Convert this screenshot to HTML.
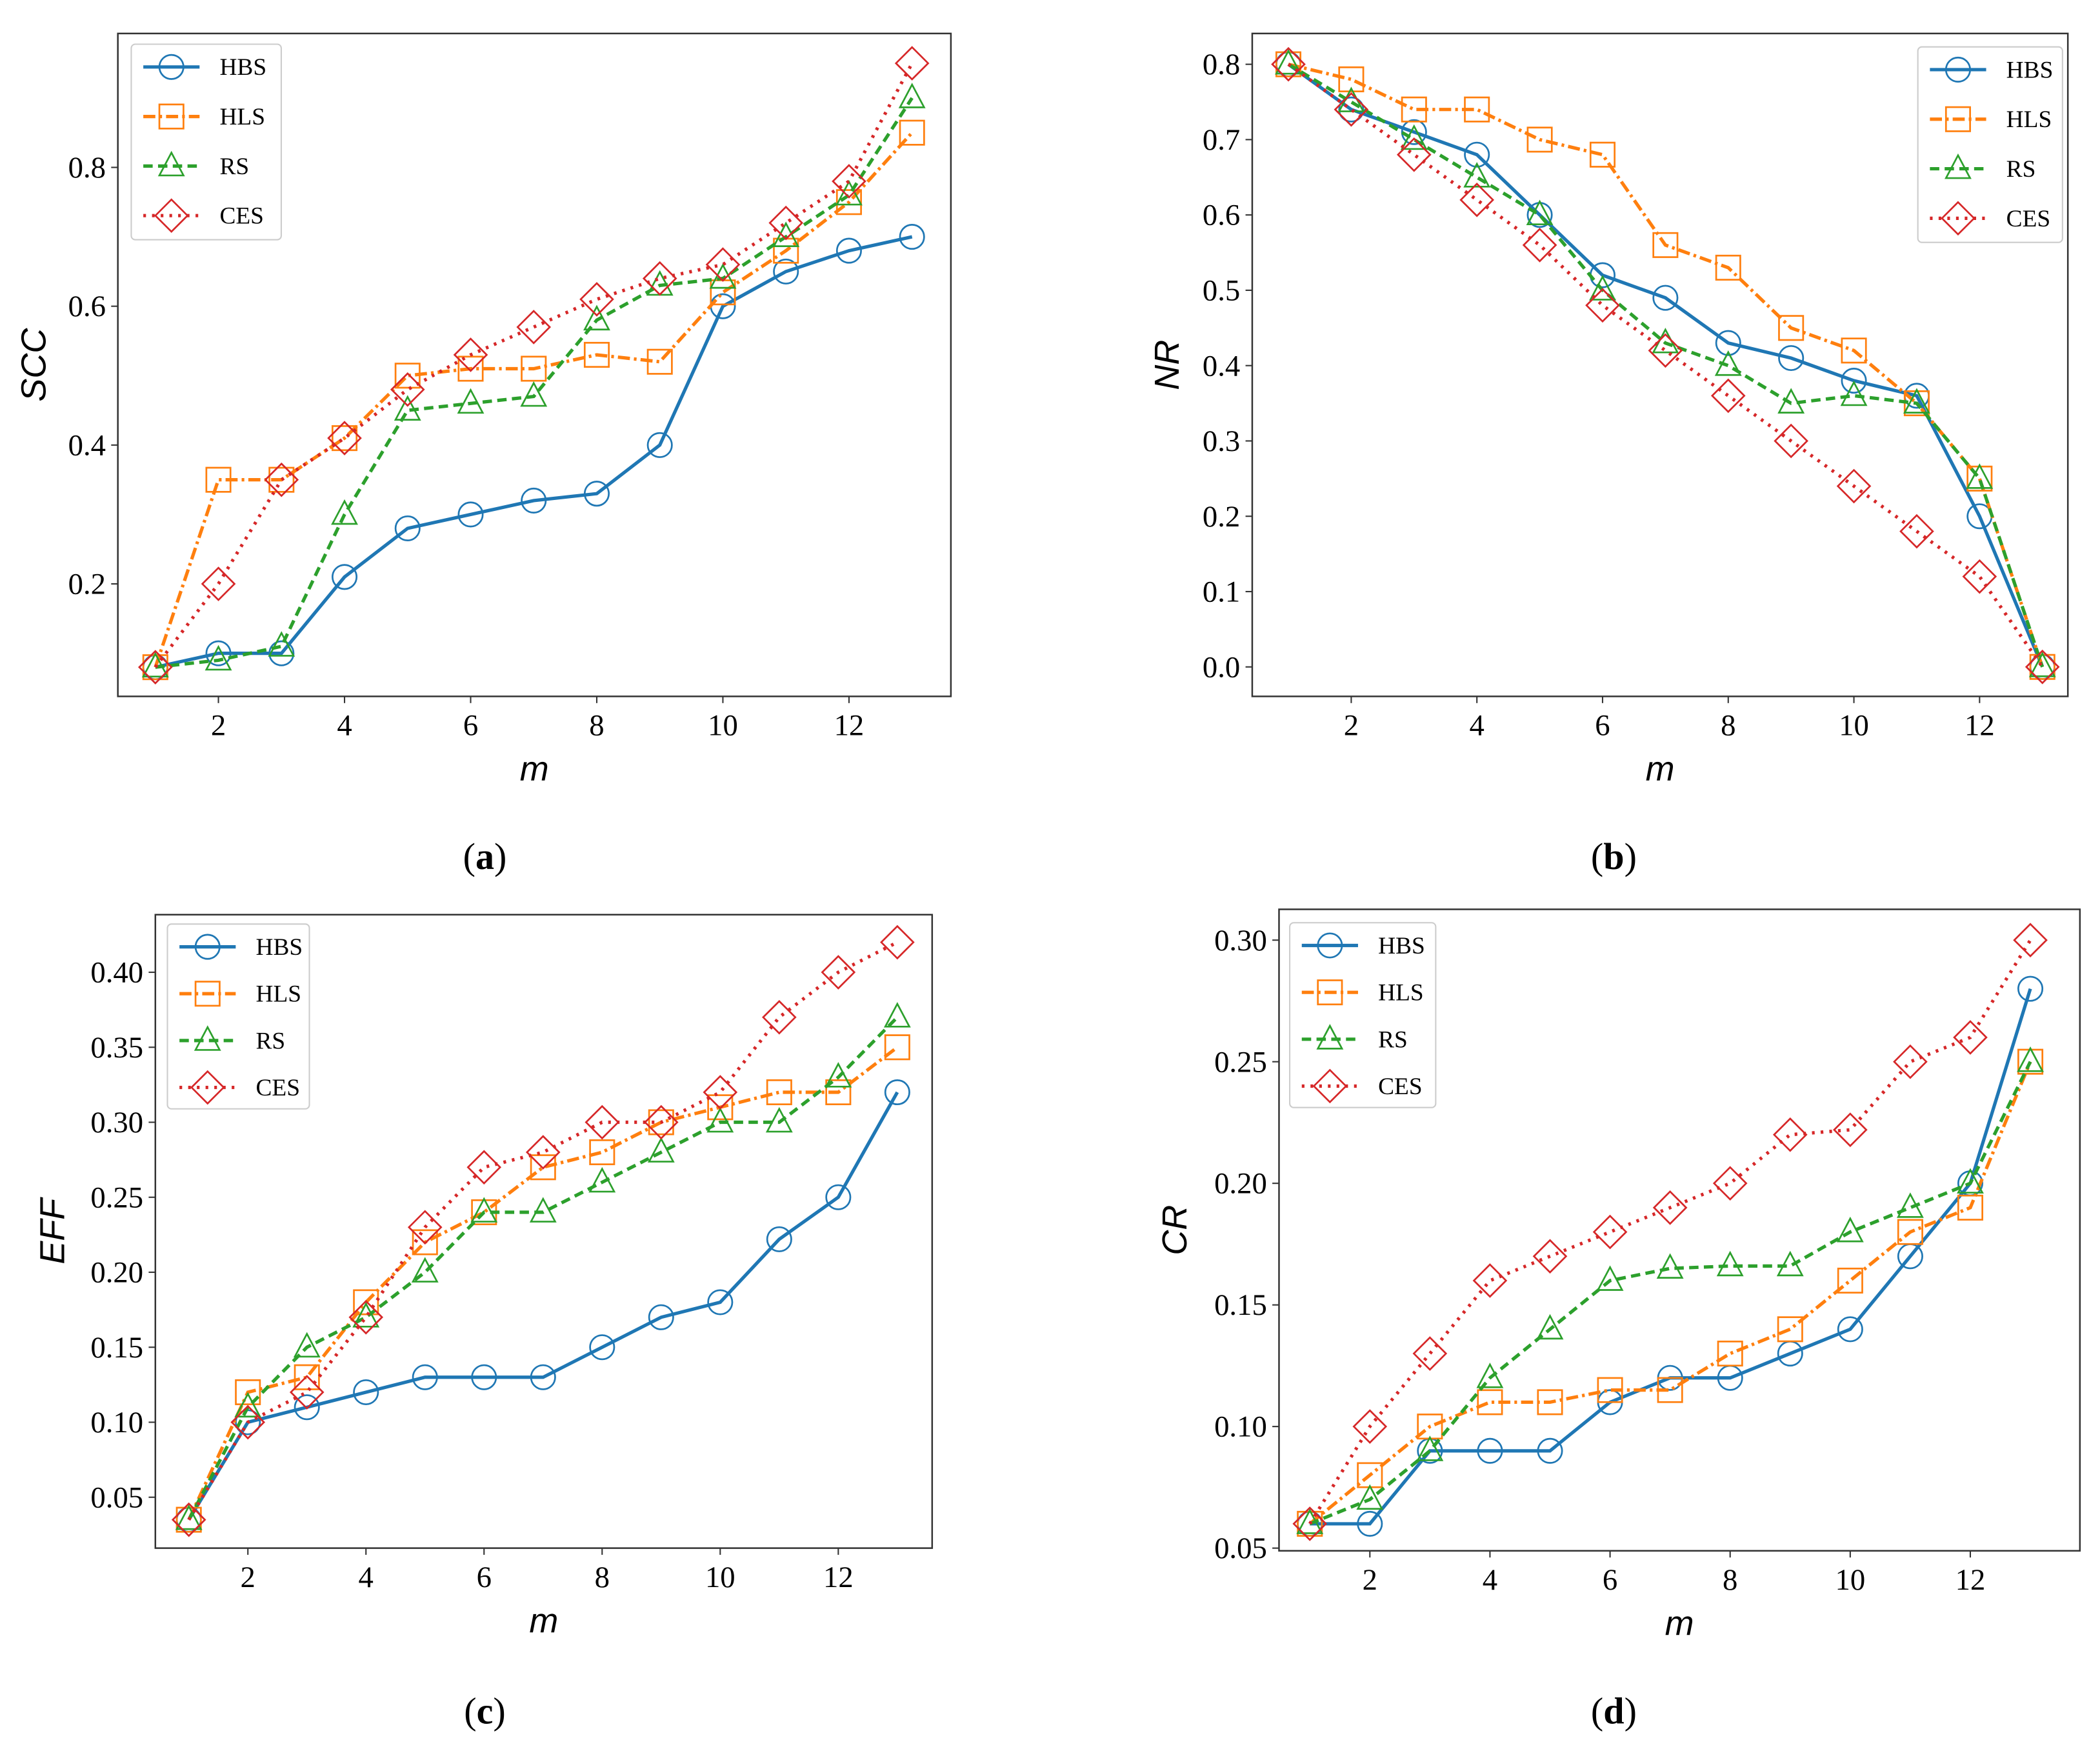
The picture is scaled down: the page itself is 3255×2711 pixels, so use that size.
<!DOCTYPE html>
<html><head><meta charset="utf-8"><style>
html,body{margin:0;padding:0;background:#fff;}
svg{display:block;}
text{font-family:"Liberation Serif",serif;}
.ax{font-family:"Liberation Sans",sans-serif;font-style:italic;}
</style></head><body>
<svg id="fig" width="3255" height="2711" viewBox="0 0 1568 1306" preserveAspectRatio="none" xmlns="http://www.w3.org/2000/svg"></svg>
<script>
const mVals=[1,2,3,4,5,6,7,8,9,10,11,12,13];
const seriesNames=['HBS','HLS','RS','CES'];
const sccHBS=[.08,.10,.10,.21,.28,.30,.32,.33,.40,.60,.65,.68,.70];
const sccHLS=[.08,.35,.35,.41,.50,.51,.51,.53,.52,.62,.68,.75,.85];
const sccRS=[.08,.09,.11,.30,.45,.46,.47,.58,.63,.64,.70,.76,.90];
const sccCES=[.08,.20,.35,.41,.48,.53,.57,.61,.64,.66,.72,.78,.95];
const nrHBS=[.80,.74,.71,.68,.60,.52,.49,.43,.41,.38,.36,.20,0];
const nrHLS=[.80,.78,.74,.74,.70,.68,.56,.53,.45,.42,.35,.25,0];
const nrRS=[.80,.75,.70,.65,.60,.50,.43,.40,.35,.36,.35,.25,0];
const nrCES=[.80,.74,.68,.62,.56,.48,.42,.36,.30,.24,.18,.12,0];
const effHBS=[.035,.10,.11,.12,.13,.13,.13,.15,.17,.18,.222,.25,.32];
const effHLS=[.035,.12,.13,.18,.22,.24,.27,.28,.30,.31,.32,.32,.35];
const effRS=[.035,.11,.15,.17,.20,.24,.24,.26,.28,.30,.30,.33,.37];
const effCES=[.035,.10,.12,.17,.23,.27,.28,.30,.30,.32,.37,.40,.42];
const crHBS=[.06,.06,.09,.09,.09,.11,.12,.12,.13,.14,.17,.20,.28];
const crHLS=[.06,.08,.10,.11,.11,.115,.115,.13,.14,.16,.18,.19,.25];
const crRS=[.06,.07,.09,.12,.14,.16,.165,.166,.166,.18,.19,.20,.25];
const crCES=[.06,.10,.13,.16,.17,.18,.19,.20,.22,.222,.25,.26,.30];
const xTicks=[2,4,6,8,10,12];
const sccTicks=[0.2,0.4,0.6,0.8];
const nrTicks=[0,0.1,0.2,0.3,0.4,0.5,0.6,0.7,0.8];
const effTicks=[0.05,0.10,0.15,0.20,0.25,0.30,0.35,0.40];
const crTicks=[0.05,0.10,0.15,0.20,0.25,0.30];

const NS='http://www.w3.org/2000/svg';
const svg=document.getElementById('fig');
function mk(tag,attrs,parent){const e=document.createElementNS(NS,tag);for(const k in attrs)e.setAttribute(k,attrs[k]);(parent||svg).appendChild(e);return e;}
const colors=['#1f77b4','#ff7f0e','#2ca02c','#d62728'];
const dashes=['none','9,3,2,3','7,4','2,4.5'];
const markers=['circle','square','triangle','diamond'];

function marker(g,type,x,y,c){
  const r=9;
  let e;
  if(type==='circle')e=mk('circle',{cx:x,cy:y,r:r},g);
  else if(type==='square')e=mk('rect',{x:x-r,y:y-r,width:2*r,height:2*r},g);
  else if(type==='triangle')e=mk('polygon',{points:`${x},${y-r-1} ${x-r},${y+r-2} ${x+r},${y+r-2}`},g);
  else e=mk('polygon',{points:`${x},${y-r-3} ${x+r+3},${y} ${x},${y+r+3} ${x-r-3},${y}`},g);
  e.setAttribute('fill','none');e.setAttribute('stroke',c);e.setAttribute('stroke-width','1.3');
  return e;
}

function panel(cfg){
  const g=mk('g',{});
  
  
  const xs=v=>cfg.x1+(v-1)*(cfg.x13-cfg.x1)/12;
  const ys=v=>cfg.yA+(v-cfg.vA)*(cfg.yB-cfg.yA)/(cfg.vB-cfg.vA);
  const box=mk('rect',{x:cfg.L,y:cfg.T,width:cfg.R-cfg.L,height:cfg.B-cfg.T,fill:'none',stroke:'#333',"stroke-width":1.2},g);
  
  
  xTicks.forEach(t=>{
    const x=xs(t);
    mk('line',{x1:x,y1:cfg.B,x2:x,y2:cfg.B+5,stroke:'#333'},g);
    const tx=mk('text',{x:x,y:cfg.B+29,"text-anchor":"middle","font-size":22.5},g);
    tx.textContent=String(t);
    
    
  });
  cfg.ticks.forEach(t=>{
    const y=ys(t);
    mk('line',{x1:cfg.L-5,y1:y,x2:cfg.L,y2:y,stroke:'#333'},g);
    const tx=mk('text',{x:cfg.L-9,y:y+7.5,"text-anchor":"end","font-size":22.5},g);
    tx.textContent=t.toFixed(cfg.dec);
    
    
  });
  const xl=mk('text',{x:(cfg.L+cfg.R)/2,y:cfg.B+63,"text-anchor":"middle","font-size":26,class:"ax"},g);
  xl.textContent='m';
  
  
  const yx=cfg.ylx, yy=(cfg.T+cfg.B)/2;
  const yl=mk('text',{x:yx,y:yy,"text-anchor":"middle","font-size":26,class:"ax",transform:`rotate(-90 ${yx} ${yy})`},g);
  yl.textContent=cfg.ylabel;
  
  
  cfg.data.forEach((arr,i)=>{
    const sg=mk('g',{},g);
    
    
    const pts=arr.map((v,j)=>xs(mVals[j])+','+ys(v)).join(' ');
    mk('polyline',{points:pts,fill:'none',stroke:colors[i],"stroke-width":2.5,"stroke-dasharray":dashes[i]},sg);
    arr.forEach((v,j)=>{
      const m=marker(sg,markers[i],xs(mVals[j]),ys(v),colors[i]);
      
      
    });
  });
  const lg=mk('g',{},g);
  
  
  const sp=cfg.lsp;
  mk('rect',{x:cfg.lx,y:cfg.ly,width:cfg.lw,height:sp*4-2,rx:3,fill:'#fff',"fill-opacity":0.8,stroke:'#ccc'},lg);
  seriesNames.forEach((n,i)=>{
    const y=cfg.ly+17+i*sp;
    const e=mk('g',{},lg);
    
    
    mk('line',{x1:cfg.lx+9,y1:y,x2:cfg.lx+51,y2:y,stroke:colors[i],"stroke-width":2.5,"stroke-dasharray":dashes[i]},e);
    marker(e,markers[i],cfg.lx+30,y,colors[i]);
    const t=mk('text',{x:cfg.lx+66,y:y+6,"font-size":18},e);
    t.textContent=n;
  });
  const cap=mk('text',{x:cfg.capx,y:cfg.capy,"text-anchor":"middle","font-size":28},g);
  cap.innerHTML='(<tspan font-weight="bold">'+cfg.cap+'</tspan>)';
  
  
}

panel({name:'scc-chart',L:88,T:25,R:710,B:520,x1:116,x13:681,vA:0.2,yA:436,vB:0.8,yB:125,ticks:sccTicks,dec:1,ylabel:'SCC',ylx:34,
  data:[sccHBS,sccHLS,sccRS,sccCES],lx:98,ly:33,lw:112,lsp:37,cap:'a',capx:362,capy:649});
panel({name:'nr-chart',L:935,T:25,R:1544,B:520,x1:962,x13:1525,vA:0,yA:498,vB:0.8,yB:48,ticks:nrTicks,dec:1,ylabel:'NR',ylx:880,
  data:[nrHBS,nrHLS,nrRS,nrCES],lx:1432,ly:35,lw:108,lsp:37,cap:'b',capx:1205,capy:649});
panel({name:'eff-chart',L:116,T:683,R:696,B:1156,x1:141,x13:670,vA:0.05,yA:1118,vB:0.40,yB:726,ticks:effTicks,dec:2,ylabel:'EFF',ylx:48,
  data:[effHBS,effHLS,effRS,effCES],lx:125,ly:690,lw:106,lsp:35,cap:'c',capx:362,capy:1287});
panel({name:'cr-chart',L:955,T:679,R:1553,B:1158,x1:978,x13:1516,vA:0.05,yA:1156,vB:0.30,yB:702,ticks:crTicks,dec:2,ylabel:'CR',ylx:886,
  data:[crHBS,crHLS,crRS,crCES],lx:963,ly:689,lw:109,lsp:35,cap:'d',capx:1205,capy:1287});
</script>
</body></html>
